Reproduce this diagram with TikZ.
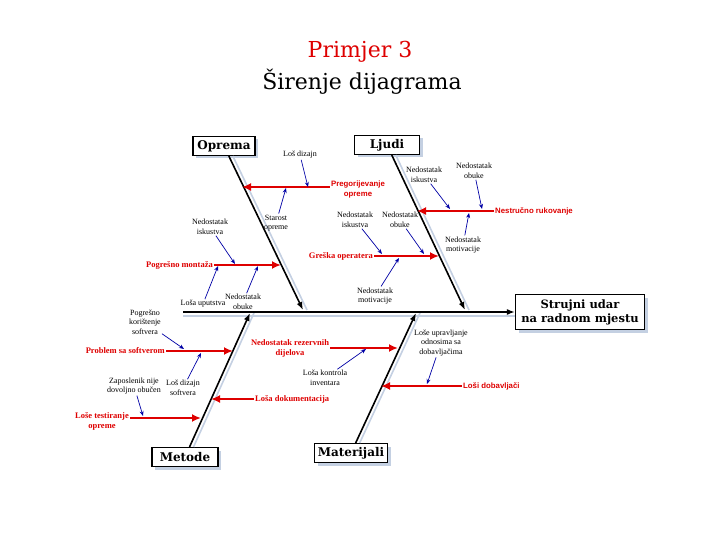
\documentclass[tikz,border=0pt]{standalone}
\usepackage{fontspec}
\setmainfont{Liberation Serif}
\setsansfont{Liberation Sans}
\newfontfamily\headfont{DejaVu Serif}
\usetikzlibrary{arrows.meta,shadows}
\definecolor{causered}{RGB}{222,0,0}
\definecolor{subblue}{RGB}{0,0,165}
\definecolor{shade}{RGB}{196,208,226}

\begin{document}
\begin{tikzpicture}[x=1pt,y=-1pt,
  title/.style={font=\headfont\fontsize{22}{26}\selectfont},
  catbox/.style={draw,line width=1.1pt,fill=white,inner sep=0pt,minimum height=19pt,
    font=\headfont\bfseries\fontsize{12}{14}\selectfont,
    drop shadow={shadow xshift=3pt,shadow yshift=-3pt,fill=shade,opacity=1}},
  bone/.style={line width=1.6pt,-{Latex[length=8pt,width=6pt]}},
  boneshade/.style={line width=1.6pt,draw=shade},
  cause/.style={draw=causered,line width=2.6pt,-{Latex[length=9pt,width=8pt]}},
  causetext/.style={text=causered,font=\bfseries\fontsize{8.5}{10}\selectfont,align=center,inner sep=1pt},
  causesans/.style={causetext,font=\sffamily\bfseries\fontsize{7.8}{10}\selectfont},
  sub/.style={font=\fontsize{8}{9.5}\selectfont,align=center,inner sep=1pt},
  subarrow/.style={draw=subblue,line width=0.7pt,-{Stealth[length=5pt,width=4pt]}}]
\useasboundingbox (0,0) rectangle (720,540);

\node[title,text=causered] (t1) at (360,52) {Primjer 3};
\node[title] (t2) at (362,82) {Širenje dijagrama};

\node[catbox,minimum width=62pt] (oprema) at (224,146) {Oprema};
\node[catbox,minimum width=65pt] (ljudi) at (387,145) {Ljudi};
\node[catbox,minimum width=66pt] (metode) at (185,457) {Metode};
\node[catbox,minimum width=73pt] (materijali) at (351,453) {Materijali};
\node[catbox,minimum width=129pt,minimum height=35pt,align=center,
  font=\headfont\bfseries\fontsize{11.5}{14}\selectfont] (head) at (580,312) {Strujni udar\\na radnom mjestu};

\coordinate (tail) at (183,312);
\coordinate (b1) at (303,310);
\coordinate (b2) at (465,310);
\coordinate (b3) at (250,313);
\coordinate (b4) at (416,313);

\draw[boneshade,transform canvas={yshift=-4pt}] (tail) -- (head);
\draw[boneshade,transform canvas={xshift=4pt}] (oprema) -- (b1);
\draw[boneshade,transform canvas={xshift=4pt}] (ljudi) -- (b2);
\draw[boneshade,transform canvas={xshift=4pt}] (metode) -- (b3);
\draw[boneshade,transform canvas={xshift=4pt}] (materijali) -- (b4);

\draw[bone] (tail) -- (head);
\draw[bone] (oprema) -- (b1);
\draw[bone] (ljudi) -- (b2);
\draw[bone] (metode) -- (b3);
\draw[bone] (materijali) -- (b4);

% Oprema
\node[causesans] (pregor) at (358,189) {Pregorijevanje\\opreme};
\coordinate (c1) at (242,187);
\draw[cause] (pregor.west |- c1) -- (c1);
\node[sub] (dizajn) at (300,155) {Loš dizajn};
\coordinate (d1) at (308,187);
\draw[subarrow] (dizajn) -- (d1);
\node[sub] (starost) at (276,223) {Starost\\opreme};
\coordinate (d2) at (286,188);
\draw[subarrow] (starost) -- (d2);

\node[causetext,anchor=east] (montaza) at (214,265) {Pogrešno montaža};
\coordinate (c2) at (281,265);
\draw[cause] (montaza) -- (c2);
\node[sub] (iskustvo1) at (210,227) {Nedostatak\\iskustva};
\coordinate (d3) at (235,264);
\draw[subarrow] (iskustvo1) -- (d3);
\node[sub] (uputstva) at (203,304) {Loša uputstva};
\coordinate (d4) at (218,266);
\draw[subarrow] (uputstva) -- (d4);
\node[sub] (obuka1) at (243,302) {Nedostatak\\obuke};
\coordinate (d5) at (258,266);
\draw[subarrow] (obuka1) -- (d5);

% Ljudi
\node[causesans,anchor=west] (rukovanje) at (494,211) {Nestručno rukovanje};
\coordinate (c3) at (417,211);
\draw[cause] (rukovanje) -- (c3);
\node[sub] (iskustvo2) at (424,175) {Nedostatak\\iskustva};
\coordinate (d6) at (450,209);
\draw[subarrow] (iskustvo2) -- (d6);
\node[sub] (obuka2) at (474,171) {Nedostatak\\obuke};
\coordinate (d7) at (482,209);
\draw[subarrow] (obuka2) -- (d7);
\node[sub] (motivacija1) at (463,245) {Nedostatak\\motivacije};
\coordinate (d8) at (469,213);
\draw[subarrow] (motivacija1) -- (d8);

\node[causetext,anchor=east] (greska) at (374,256) {Greška operatera};
\coordinate (c4) at (439,256);
\draw[cause] (greska) -- (c4);
\node[sub] (iskustvo3) at (355,220) {Nedostatak\\iskustva};
\coordinate (d9) at (382,254);
\draw[subarrow] (iskustvo3) -- (d9);
\node[sub] (obuka3) at (400,220) {Nedostatak\\obuke};
\coordinate (d10) at (424,254);
\draw[subarrow] (obuka3) -- (d10);
\node[sub] (motivacija2) at (375,296) {Nedostatak\\motivacije};
\coordinate (d11) at (399,258);
\draw[subarrow] (motivacija2) -- (d11);

% Metode
\node[causetext,anchor=east] (softver) at (166,351) {Problem sa softverom};
\coordinate (c5) at (233,351);
\draw[cause] (softver) -- (c5);
\node[sub] (koristenje) at (145,322) {Pogrešno\\korištenje\\softvera};
\coordinate (d12) at (184,349);
\draw[subarrow] (koristenje) -- (d12);
\node[sub] (dizsoftver) at (183,388) {Loš dizajn\\softvera};
\coordinate (d13) at (201,353);
\draw[subarrow] (dizsoftver) -- (d13);

\node[causetext] (testiranje) at (102,421) {Loše testiranje\\opreme};
\coordinate (c6) at (201,418);
\draw[cause] (testiranje.east |- c6) -- (c6);
\node[sub] (zaposlenik) at (134,386) {Zaposlenik nije\\dovoljno obučen};
\coordinate (d14) at (143,416);
\draw[subarrow] (zaposlenik) -- (d14);

\node[causetext,anchor=west] (dokumentacija) at (254,399) {Loša dokumentacija};
\coordinate (c7) at (211,399);
\draw[cause] (dokumentacija) -- (c7);

% Materijali
\node[causetext] (rezervni) at (290,348) {Nedostatak rezervnih\\dijelova};
\coordinate (c8) at (398,348);
\draw[cause] (rezervni.east |- c8) -- (c8);
\node[sub] (inventar) at (325,378) {Loša kontrola\\inventara};
\coordinate (d15) at (366,349);
\draw[subarrow] (inventar) -- (d15);

\node[causesans,anchor=west] (dobavljaci) at (462,386) {Loši dobavljači};
\coordinate (c9) at (381,386);
\draw[cause] (dobavljaci) -- (c9);
\node[sub] (odnosi) at (441,343) {Loše upravljanje\\odnosima sa\\dobavljačima};
\coordinate (d16) at (427,384);
\draw[subarrow] (odnosi) -- (d16);

\end{tikzpicture}
\end{document}
